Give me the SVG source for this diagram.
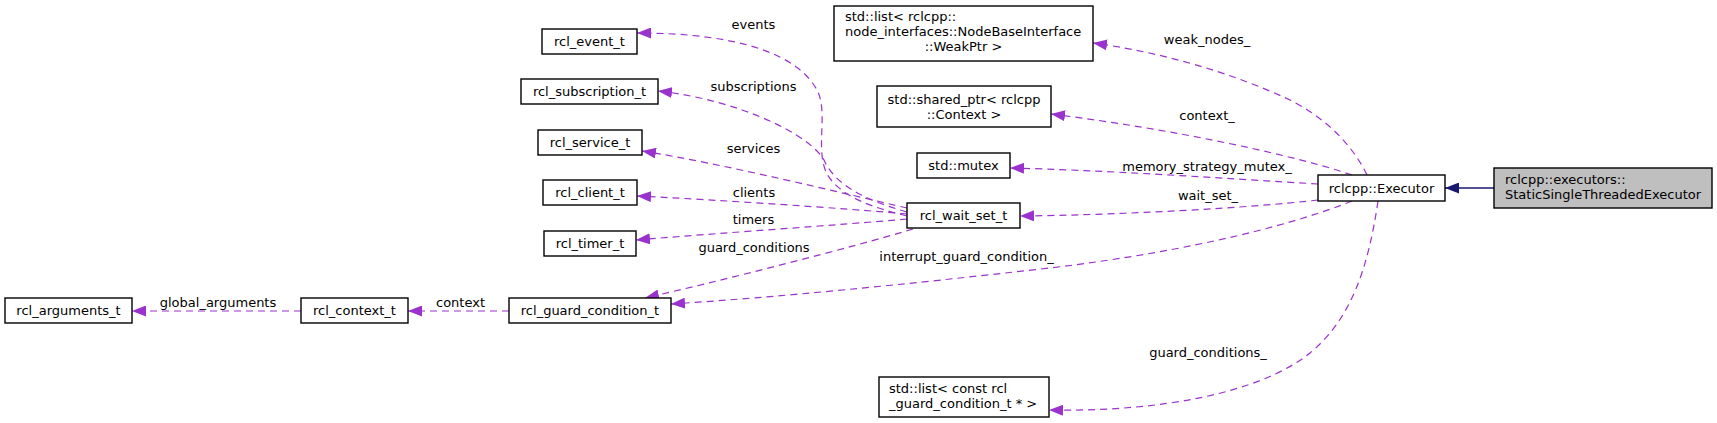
<svg xmlns="http://www.w3.org/2000/svg" width="1717" height="423" viewBox="0 0 1717 423">
<style>
  .node rect { fill: #ffffff; stroke: #000000; stroke-width: 1.4; }
  .node.root rect { fill: #bfbfbf; }
  text { font-family: "DejaVu Sans", "Liberation Sans", sans-serif; font-size: 13px; fill: #000000; }
  .c { text-anchor: middle; }
  .use { fill: none; stroke: #9a32cd; stroke-width: 1.2; stroke-dasharray: 7,5; marker-end: url(#ap); }
  .inh { fill: none; stroke: #191970; stroke-width: 1.3; marker-end: url(#ab); }
</style>
<defs>
  <marker id="ap" viewBox="0 0 14 11" refX="14" refY="5.5" markerWidth="14" markerHeight="11" markerUnits="userSpaceOnUse" orient="auto">
    <path d="M0,0 L14,5.5 L0,11 Z" fill="#9a32cd" stroke="none"/>
  </marker>
  <marker id="ab" viewBox="0 0 14 11" refX="14" refY="5.5" markerWidth="14" markerHeight="11" markerUnits="userSpaceOnUse" orient="auto">
    <path d="M0,0 L14,5.5 L0,11 Z" fill="#191970" stroke="none"/>
  </marker>
</defs>
<rect width="1717" height="423" fill="#ffffff"/>

<g id="edges">
  <path class="inh" d="M1494,188 L1445,188"/>
  <path class="use" d="M301,311 L132,311"/>
  <text class="c" x="218" y="307">global_arguments</text>
  <path class="use" d="M509,311 L408,311"/>
  <text class="c" x="460.5" y="307">context</text>
  <path class="use" d="M907,216 C870,207 840,196 827,174 C815,150 828,115 818,92 C800,55 740,33 637,33"/>
  <text class="c" x="753.5" y="29">events</text>
  <path class="use" d="M907,212 C865,200 835,185 824,160 C810,135 740,100 658,91"/>
  <text class="c" x="753.5" y="91">subscriptions</text>
  <path class="use" d="M907,208 C850,195 720,163 642,151"/>
  <text class="c" x="753.5" y="153">services</text>
  <path class="use" d="M907,214 C840,208 720,200 637,196"/>
  <text class="c" x="754" y="197">clients</text>
  <path class="use" d="M907,219 C840,225 720,233 636,240"/>
  <text class="c" x="753.5" y="224">timers</text>
  <path class="use" d="M913,229 C850,248 720,281 645,298"/>
  <text class="c" x="754" y="252">guard_conditions</text>
  <path class="use" d="M1367,175 C1350,140 1320,115 1290,100 C1230,72 1160,52 1093,43"/>
  <text class="c" x="1207" y="44">weak_nodes_</text>
  <path class="use" d="M1352,175 C1300,157 1180,130 1051,114"/>
  <text class="c" x="1207" y="120">context_</text>
  <path class="use" d="M1318,184 C1220,178 1100,170 1010,168"/>
  <text class="c" x="1207" y="171">memory_strategy_mutex_</text>
  <path class="use" d="M1318,200 C1250,208 1120,215 1020,216"/>
  <text class="c" x="1208" y="200">wait_set_</text>
  <path class="use" d="M1352,201 C1300,222 1200,250 1050,268 C900,285 780,297 671,304"/>
  <text class="c" x="966.5" y="261">interrupt_guard_condition_</text>
  <path class="use" d="M1378,201 C1368,270 1350,320 1310,353 C1260,393 1160,412 1049,410"/>
  <text class="c" x="1208" y="357">guard_conditions_</text>
</g>

<g id="node_static_single_threaded_executor" class="node root">
  <rect x="1494" y="168" width="218" height="40"/>
  <text x="1505" y="184">rclcpp::executors::</text>
  <text x="1505" y="199">StaticSingleThreadedExecutor</text>
</g>
<g id="node_executor" class="node">
  <rect x="1318" y="175" width="127" height="26"/>
  <text class="c" x="1381.5" y="193">rclcpp::Executor</text>
</g>
<g id="node_weak_nodes_list" class="node">
  <rect x="834" y="6" width="259" height="55"/>
  <text x="845" y="21">std::list&lt; rclcpp::</text>
  <text x="845" y="36">node_interfaces::NodeBaseInterface</text>
  <text class="c" x="963.5" y="51">::WeakPtr &gt;</text>
</g>
<g id="node_shared_ptr_context" class="node">
  <rect x="877" y="86" width="174" height="41"/>
  <text class="c" x="964" y="104">std::shared_ptr&lt; rclcpp</text>
  <text class="c" x="964" y="119">::Context &gt;</text>
</g>
<g id="node_mutex" class="node">
  <rect x="917" y="153" width="93" height="25"/>
  <text class="c" x="963.5" y="170">std::mutex</text>
</g>
<g id="node_rcl_wait_set_t" class="node">
  <rect x="907" y="203" width="113" height="25"/>
  <text class="c" x="963.5" y="220">rcl_wait_set_t</text>
</g>
<g id="node_guard_conditions_list" class="node">
  <rect x="879" y="377" width="170" height="40"/>
  <text x="889" y="393">std::list&lt; const rcl</text>
  <text x="889" y="408">_guard_condition_t * &gt;</text>
</g>
<g id="node_rcl_event_t" class="node">
  <rect x="542" y="29" width="95" height="25"/>
  <text class="c" x="589.5" y="46">rcl_event_t</text>
</g>
<g id="node_rcl_subscription_t" class="node">
  <rect x="521" y="79" width="137" height="25"/>
  <text class="c" x="589.5" y="96">rcl_subscription_t</text>
</g>
<g id="node_rcl_service_t" class="node">
  <rect x="538" y="130" width="104" height="25"/>
  <text class="c" x="590" y="147">rcl_service_t</text>
</g>
<g id="node_rcl_client_t" class="node">
  <rect x="543" y="180" width="94" height="25"/>
  <text class="c" x="590" y="197">rcl_client_t</text>
</g>
<g id="node_rcl_timer_t" class="node">
  <rect x="544" y="231" width="92" height="25"/>
  <text class="c" x="590" y="248">rcl_timer_t</text>
</g>
<g id="node_rcl_guard_condition_t" class="node">
  <rect x="509" y="298" width="162" height="25"/>
  <text class="c" x="590" y="315">rcl_guard_condition_t</text>
</g>
<g id="node_rcl_context_t" class="node">
  <rect x="301" y="298" width="107" height="25"/>
  <text class="c" x="354.5" y="315">rcl_context_t</text>
</g>
<g id="node_rcl_arguments_t" class="node">
  <rect x="5" y="298" width="127" height="25"/>
  <text class="c" x="68.5" y="315">rcl_arguments_t</text>
</g>
</svg>
